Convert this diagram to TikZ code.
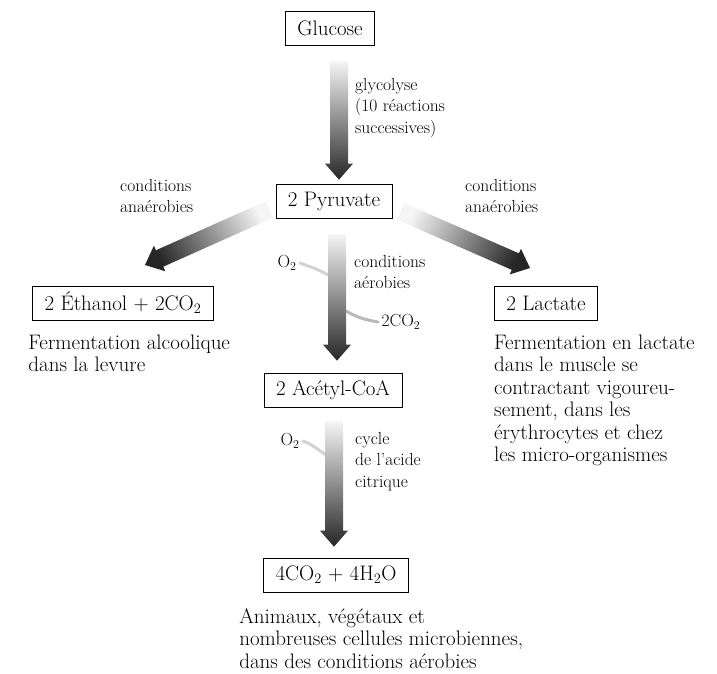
\documentclass[tikz,border=0pt]{standalone}
\usetikzlibrary{calc,positioning}

\tikzset{
  box/.style={draw, line width=0.7pt, inner xsep=12pt, minimum height=34pt,
    font=\fontsize{21}{24}\selectfont},
  note/.style={anchor=north west, inner sep=0pt, align=left,
    font=\fontsize{21}{22.5}\selectfont},
  small/.style={anchor=north west, inner sep=0pt, align=left,
    font=\fontsize{17.5}{21.5}\selectfont},
  fatarrow/.style={top color=gray!8, bottom color=black!85},
  branch/.style={line width=3pt, gray!35, line cap=round},
}

% wide shaded arrow from #1 to #2, shading turned by #3
\newcommand\fatarrow[3]{%
  \coordinate (fa-h) at ($(#2)!16pt!(#1)$);
  \shade[fatarrow, shading angle=#3]
    ($(#1)!9pt!90:(#2)$) -- ($(fa-h)!9pt!90:(#2)$) -- ($(fa-h)!14pt!90:(#2)$)
    -- (#2) -- ($(fa-h)!14pt!-90:(#2)$) -- ($(fa-h)!9pt!-90:(#2)$)
    -- ($(#1)!9pt!-90:(#2)$) -- cycle;}

\begin{document}
\begin{tikzpicture}[x=1pt, y=-1pt, node distance=14pt]
  \useasboundingbox (0,0) rectangle (717,673);
  % boxes
  \node (glucose)  [box] at (330,28)  {Glucose};
  \node (pyruvate) [box] at (334,201) {2 Pyruvate};
  \node (ethanol)  [box] at (123,303) {2 Éthanol + 2CO$_2$};
  \node (lactate)  [box] at (546,303) {2 Lactate};
  \node (acetyl)   [box] at (333,390) {2 Acétyl-CoA};
  \node (final)    [box] at (336,575) {4CO$_2$ + 4H$_2$O};
  % notes under the boxes
  \node (ferm-alc) [note, below right=14pt and -4pt of ethanol.south west]
    {Fermentation alcoolique\\dans la levure};
  \node (ferm-lac) [note, below right=14pt and 0pt of lactate.south west]
    {Fermentation en lactate\\dans le muscle se\\contractant vigoureu-\\sement, dans les\\érythrocytes et chez\\les micro-organismes};
  \node (aerob)    [note, below right=16pt and -24pt of final.south west]
    {Animaux, végétaux et\\nombreuses cellules microbiennes,\\dans des conditions aérobies};
  % small labels
  \node (glyco)  [small] at (355,78)  {glycolyse\\(10 réactions\\successives)};
  \node (anaer-l) [small] at (120,179) {conditions\\anaérobies};
  \node (anaer-r) [small] at (465,179) {conditions\\anaérobies};
  \node (aer)    [small] at (354,255) {conditions\\aérobies};
  \node (cycle)  [small] at (355,432) {cycle\\de l'acide\\citrique};
  \node (o2-a)   [font=\fontsize{17.5}{18}\selectfont] at (287,263) {O$_2$};
  \node (o2-b)   [font=\fontsize{17.5}{18}\selectfont] at (290,441) {O$_2$};
  \node (co2)    [font=\fontsize{17.5}{18}\selectfont, anchor=west] at (378,322) {2CO$_2$};
  % arrow ends
  \coordinate (a1s) at ($(glucose.south)+(9,16)$);
  \coordinate (a1e) at ($(pyruvate.north)+(5,-4)$);
  \coordinate (a2s) at ($(pyruvate.south)+(3,16)$);
  \coordinate (a2e) at ($(acetyl.north)+(4,-12)$);
  \coordinate (a3s) at ($(acetyl.south)+(1,14)$);
  \coordinate (a3e) at ($(final.north)+(-2,-11)$);
  \coordinate (als) at ($(pyruvate.south west)+(-6,-9)$);
  \coordinate (ale) at (145,265);
  \coordinate (ars) at ($(pyruvate.south east)+(8,-7)$);
  \coordinate (are) at (530,268);
  % side branches
  \coordinate (b-in)  at (330,276);
  \coordinate (b-out) at (346,311);
  \coordinate (c-in)  at (328,456);
  \draw[branch] (o2-a.east) to[out=-20, in=150] (b-in);
  \draw[branch, gray!55] (b-out) to[out=-30, in=170] (co2.west);
  \draw[branch] (o2-b.east) to[out=-20, in=150] (c-in);
  % big arrows
  \fatarrow{a1s}{a1e}{0}
  \fatarrow{a2s}{a2e}{0}
  \fatarrow{a3s}{a3e}{0}
  \fatarrow{als}{ale}{-63}
  \fatarrow{ars}{are}{63}
\end{tikzpicture}
\end{document}
